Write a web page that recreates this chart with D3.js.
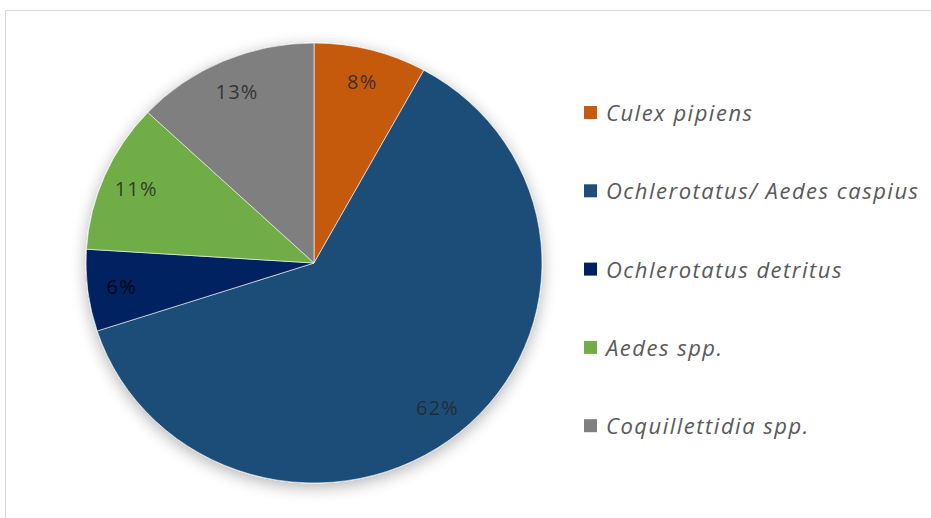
<!DOCTYPE html>
<html>
<head>
<meta charset="utf-8">
<script src="https://cdn.jsdelivr.net/npm/d3@7"></script>
<style>
  html, body { margin: 0; padding: 0; background: #fff; }
  svg { display: block; }
</style>
</head>
<body>
<svg id="chart" width="931" height="518"></svg>
<script>
// species shares, clockwise from 12 o'clock
const species = ["Culex pipiens", "Ochlerotatus/ Aedes caspius", "Ochlerotatus detritus", "Aedes spp.", "Coquillettidia spp."];
const shares = [8, 62, 6, 11, 13];
const colors = ["#C55A11", "#1F4E79", "#002060", "#70AD47", "#7F7F7F"];

const svg = d3.select("#chart");
const W = 931, H = 518;

// chart frame
svg.append("rect")
  .attr("x", 5.5).attr("y", 10.5)
  .attr("width", W + 10).attr("height", H + 10)
  .attr("fill", "none").attr("stroke", "#d9d9d9");

// soft shadow like the office default
const defs = svg.append("defs");
const f = defs.append("filter").attr("id", "shadow")
  .attr("x", "-20%").attr("y", "-20%").attr("width", "140%").attr("height", "140%");
f.append("feGaussianBlur").attr("in", "SourceAlpha").attr("stdDeviation", 8);
f.append("feOffset").attr("dx", 0).attr("dy", 4).attr("result", "b");
f.append("feComponentTransfer").append("feFuncA").attr("type", "linear").attr("slope", 0.3);
const m = f.append("feMerge");
m.append("feMergeNode");
m.append("feMergeNode").attr("in", "SourceGraphic");

const cx = 314, cy = 263, R = 228, ry = 220;
const sy = ry / R;

const pie = d3.pie().sort(null).value(d => d)(shares);
const arc = d3.arc().innerRadius(0).outerRadius(R);
const labelArc = d3.arc().innerRadius(R * 0.85).outerRadius(R * 0.85);

const g = svg.append("g")
  .attr("transform", `translate(${cx},${cy}) scale(1,${sy})`)
  .attr("filter", "url(#shadow)");

g.selectAll("path")
  .data(pie)
  .join("path")
  .attr("d", arc)
  .attr("fill", (d, i) => colors[i])
  .attr("stroke", "#fff")
  .attr("stroke-width", 0.6);

// percentage labels
svg.append("g")
  .selectAll("text")
  .data(pie)
  .join("text")
  .attr("x", d => cx + labelArc.centroid(d)[0])
  .attr("y", d => cy + labelArc.centroid(d)[1] * sy)
  .attr("text-anchor", "middle")
  .attr("dominant-baseline", "central")
  .attr("font-family", "'Open Sans', Lato, sans-serif")
  .attr("font-size", 20)
  .attr("letter-spacing", 1.2)
  .attr("fill", (d, i) => i === 2 ? "#000" : "#262626")
  .attr("fill-opacity", 0.85)
  .text(d => d.data + "%");

// legend
const legend = svg.append("g").attr("transform", "translate(584,112)");
const row = legend.selectAll("g")
  .data(species)
  .join("g")
  .attr("transform", (d, i) => `translate(0,${i * 78.3})`);

row.append("rect")
  .attr("x", 0).attr("y", -6)
  .attr("width", 13).attr("height", 13)
  .attr("fill", (d, i) => colors[i]);

row.append("text")
  .attr("x", 22).attr("y", 0)
  .attr("dominant-baseline", "central")
  .attr("font-family", "'Open Sans', Lato, sans-serif")
  .attr("font-style", "italic")
  .attr("font-size", 22)
  .attr("letter-spacing", 1.5)
  .attr("fill", "#595959")
  .text(d => d);
</script>
</body>
</html>
